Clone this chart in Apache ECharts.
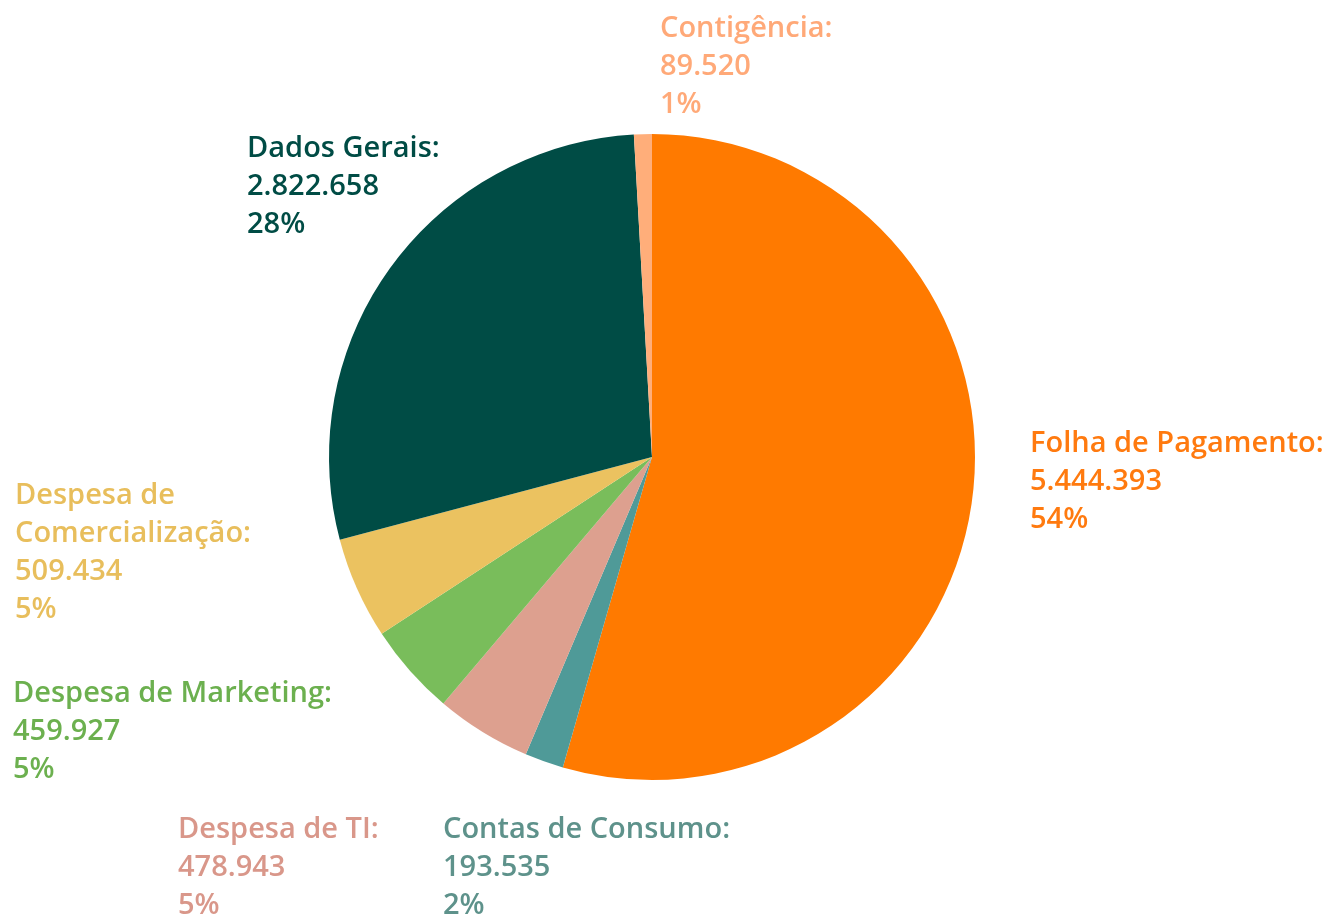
<!DOCTYPE html>
<html>
<head>
<meta charset="utf-8">
<script src="https://cdn.jsdelivr.net/npm/echarts@6/dist/echarts.min.js"></script>
<style>
  html, body { margin: 0; padding: 0; background: #fff; }
  #chart { width: 1334px; height: 920px; }
</style>
</head>
<body>
<div id="chart"></div>
<script>
// dados do gráfico
var categorias = ['Folha de Pagamento', 'Contas de Consumo', 'Despesa de TI', 'Despesa de Marketing',
                  'Despesa de Comercialização', 'Dados Gerais', 'Contigência'];
var valores = [5444393, 193535, 478943, 459927, 509434, 2822658, 89520];
var coresFatia = ['#ff7a00', '#4f9a98', '#dda08f', '#79bd5b', '#ebc260', '#004c45', '#ffae7a'];
var coresRotulo = ['#ff7a0f', '#5e928b', '#d9978a', '#6cb04f', '#e8be5c', '#004c45', '#ffa978'];

// posição dos rótulos (canto superior esquerdo)
var posRotulo = [[1030, 425], [443, 811], [178, 811], [13, 675], [15, 477], [247, 130], [660, 10]];

function fmtNum(v) {
  return String(v).replace(/\B(?=(\d{3})+(?!\d))/g, '.');
}

var dados = categorias.map(function (c, i) {
  return {
    name: c,
    value: valores[i],
    itemStyle: { color: coresFatia[i] },
    label: { color: coresRotulo[i] }
  };
});

var myChart = echarts.init(document.getElementById('chart'));
var option = {
  backgroundColor: '#ffffff',
  animation: false,
  series: [{
    type: 'pie',
    center: [652, 457],
    radius: [0, 323],
    startAngle: 90,
    clockwise: true,
    data: dados,
    itemStyle: { borderWidth: 0 },
    labelLine: { show: false },
    label: {
      show: true,
      position: 'outside',
      overflow: 'none',
      width: 400,
      fontFamily: '"Open Sans", "Noto Sans", sans-serif',
      fontWeight: 600,
      fontSize: 29,
      lineHeight: 38,
      align: 'left',
      formatter: function (p) {
        var nome = p.name;
        if (nome.length > 22) nome = nome.replace(' de ', ' de\n');
        return nome + ':\n' + fmtNum(p.value) + '\n' + Math.round(p.percent) + '%';
      }
    },
    labelLayout: function (params) {
      var pos = posRotulo[params.dataIndex];
      return { x: pos[0], y: pos[1], align: 'left', verticalAlign: 'top' };
    }
  }]
};
myChart.setOption(option);
</script>
</body>
</html>
